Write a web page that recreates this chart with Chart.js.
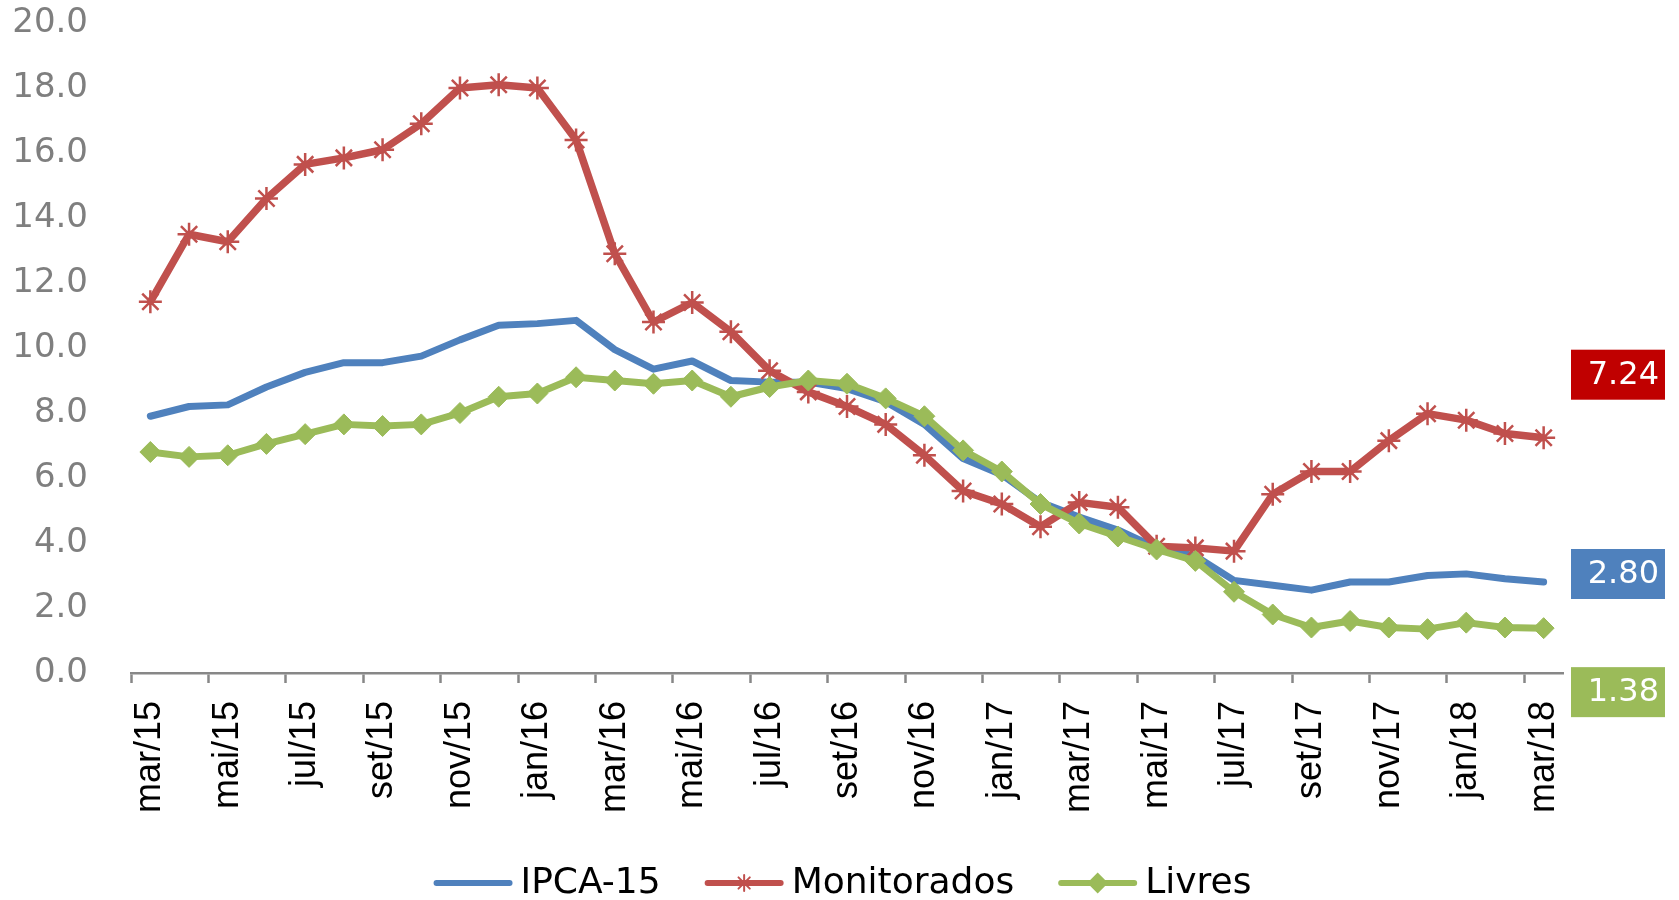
<!DOCTYPE html>
<html>
<head>
<meta charset="utf-8">
<script src="https://cdn.jsdelivr.net/npm/chart.js@4.4.1/dist/chart.umd.min.js"></script>
<style>
  html, body { margin: 0; padding: 0; background: #fff; }
  .wrap { width: 1679px; height: 900px; position: relative; }
</style>
</head>
<body>
<div class="wrap"><canvas id="chart"></canvas></div>
<script>
// --- DATA --- //
const months = [
  'mar/15', 'abr/15', 'mai/15', 'jun/15', 'jul/15', 'ago/15', 'set/15', 'out/15', 'nov/15', 'dez/15',
  'jan/16', 'fev/16', 'mar/16', 'abr/16', 'mai/16', 'jun/16', 'jul/16', 'ago/16', 'set/16', 'out/16',
  'nov/16', 'dez/16', 'jan/17', 'fev/17', 'mar/17', 'abr/17', 'mai/17', 'jun/17', 'jul/17', 'ago/17',
  'set/17', 'out/17', 'nov/17', 'dez/17', 'jan/18', 'fev/18', 'mar/18'
];

const ipca15 = [
  7.9, 8.2, 8.25, 8.8, 9.25, 9.55, 9.55, 9.75, 10.25, 10.7,
  10.75, 10.85, 9.95, 9.35, 9.6, 9.0, 8.95, 8.95, 8.75, 8.35,
  7.65, 6.6, 6.1, 5.25, 4.8, 4.4, 3.85, 3.6, 2.85, 2.7,
  2.55, 2.8, 2.8, 3.0, 3.05, 2.9, 2.80
];

const monitorados = [
  11.42, 13.5, 13.27, 14.6, 15.65, 15.85, 16.1, 16.9, 18.0, 18.1,
  18.0, 16.4, 12.9, 10.8, 11.4, 10.5, 9.3, 8.65, 8.2, 7.65,
  6.7, 5.6, 5.2, 4.5, 5.25, 5.1, 3.9, 3.85, 3.75, 5.5,
  6.2, 6.2, 7.15, 7.98, 7.78, 7.37, 7.24
];

const livres = [
  6.8, 6.65, 6.7, 7.05, 7.35, 7.65, 7.6, 7.65, 8.0, 8.5,
  8.6, 9.1, 9.0, 8.9, 9.0, 8.5, 8.8, 9.0, 8.9, 8.45,
  7.9, 6.85, 6.2, 5.2, 4.6, 4.2, 3.8, 3.45, 2.5, 1.8,
  1.4, 1.6, 1.4, 1.35, 1.55, 1.4, 1.38
];

const seriesNames = ['IPCA-15', 'Monitorados', 'Livres'];
const yTicks = { min: 0, max: 20, step: 2 };

// --- STYLE --- //
const lineColors = ['#4F81BD', '#C0504D', '#9BBB59'];
const boxColors = ['#4F81BD', '#C00000', '#9BBB59'];
const endLabelOffsets = [-8, -63, 64]; // box centre vs last point, px
const axisGray = '#878787';

// --- END LABEL BOXES --- //
const endLabels = {
  id: 'endLabels',
  afterDatasetsDraw(chart) {
    const { ctx, chartArea } = chart;
    ctx.save();
    chart.data.datasets.forEach((ds, i) => {
      const meta = chart.getDatasetMeta(i);
      const last = meta.data[meta.data.length - 1];
      const cy = last.y + endLabelOffsets[i];
      const x0 = chartArea.right + 8;
      const w = 94, h = 50;
      ctx.fillStyle = boxColors[i];
      ctx.fillRect(x0, cy - h / 2, w, h);
      ctx.fillStyle = '#ffffff';
      ctx.font = '32px "DejaVu Sans"';
      ctx.textAlign = 'right';
      ctx.textBaseline = 'middle';
      ctx.fillText(ds.data[ds.data.length - 1].toFixed(2), x0 + w - 6, cy + 1);
    });
    ctx.restore();
  }
};

// --- LEGEND (line + marker samples) --- //
const lineLegend = {
  id: 'lineLegend',
  afterDraw(chart) {
    const { ctx } = chart;
    const y = chart.height - 17;
    const lineLen = 79, gap = 8, spacing = 44;
    ctx.save();
    ctx.font = '36px "DejaVu Sans"';
    const widths = chart.data.datasets.map(ds => lineLen + gap + ctx.measureText(ds.label).width);
    const total = widths.reduce((a, b) => a + b, 0) + spacing * (widths.length - 1);
    let x = (chart.width - total) / 2 + 3;
    chart.data.datasets.forEach((ds, i) => {
      ctx.strokeStyle = ds.borderColor;
      ctx.fillStyle = ds.borderColor;
      ctx.lineWidth = 6;
      ctx.lineCap = 'round';
      ctx.beginPath();
      ctx.moveTo(x + 3, y);
      ctx.lineTo(x + lineLen - 3, y);
      ctx.stroke();
      if (ds.pointStyle && ds.pointRadius > 0) {
        ctx.lineWidth = 2;
        Chart.helpers.drawPoint(ctx, {
          pointStyle: ds.pointStyle,
          radius: ds.pointStyle === 'star' ? 8 : 9,
          borderWidth: 2,
          rotation: 0
        }, x + lineLen / 2, y);
      }
      ctx.fillStyle = '#000000';
      ctx.textAlign = 'left';
      ctx.textBaseline = 'middle';
      ctx.fillText(ds.label, x + lineLen + gap, y + 1);
      x += widths[i] + spacing;
    });
    ctx.restore();
  }
};

// --- CHART --- //
const ctxChart = document.getElementById('chart');

new Chart(ctxChart, {
  type: 'line',
  data: {
    labels: months,
    datasets: [
      {
        label: seriesNames[0],
        data: ipca15,
        borderColor: lineColors[0],
        backgroundColor: lineColors[0],
        borderWidth: 7,
        pointRadius: 0,
        borderCapStyle: 'round',
        borderJoinStyle: 'round',
        order: 3
      },
      {
        label: seriesNames[1],
        data: monitorados,
        borderColor: lineColors[1],
        backgroundColor: lineColors[1],
        borderWidth: 7.5,
        pointStyle: 'star',
        pointRadius: 11.5,
        pointBorderWidth: 2.5,
        borderJoinStyle: 'round',
        order: 2
      },
      {
        label: seriesNames[2],
        data: livres,
        borderColor: lineColors[2],
        backgroundColor: lineColors[2],
        borderWidth: 7,
        pointStyle: 'rectRot',
        pointRadius: 10.5,
        pointBorderWidth: 1,
        borderJoinStyle: 'round',
        order: 1
      }
    ]
  },
  options: {
    responsive: true,
    maintainAspectRatio: false,
    animation: false,
    layout: {
      padding: { top: 23, right: 116, bottom: 0, left: 0 }
    },
    scales: {
      x: {
        offset: true,
        afterFit: scale => { scale.height = 227; },
        border: { display: true, color: axisGray, width: 2.5 },
        grid: {
          offset: true,
          drawOnChartArea: false,
          drawTicks: true,
          tickLength: 10,
          tickWidth: 2.5,
          tickColor: ctx => (ctx.index % 2 === 0 ? axisGray : 'rgba(0,0,0,0)')
        },
        ticks: {
          autoSkip: false,
          maxRotation: 90,
          minRotation: 90,
          padding: 18,
          color: '#000000',
          font: { family: '"Liberation Sans"', size: 36 },
          callback: function (value, index) {
            return index % 2 === 0 ? this.getLabelForValue(value) : '';
          }
        }
      },
      y: {
        min: yTicks.min,
        max: yTicks.max,
        afterFit: scale => { scale.width = 131; },
        border: { display: false },
        // grid hidden; tick length only pushes the labels left of the plot
        grid: { display: false, drawTicks: true, tickLength: 43 },
        ticks: {
          stepSize: yTicks.step,
          padding: 0,
          color: '#7F7F7F',
          font: { family: '"DejaVu Sans"', size: 34 },
          callback: value => value.toFixed(1)
        }
      }
    },
    plugins: {
      legend: { display: false },
      tooltip: { enabled: false }
    }
  },
  plugins: [endLabels, lineLegend]
});
</script>
</body>
</html>
